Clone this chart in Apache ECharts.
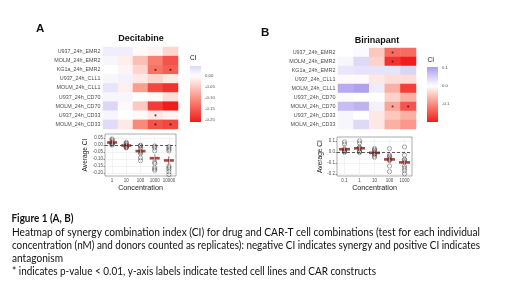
<!DOCTYPE html>
<html>
<head>
<meta charset="utf-8">
<script src="https://cdn.jsdelivr.net/npm/echarts@6/dist/echarts.min.js"></script>
<style>
  html, body { margin: 0; padding: 0; background: #fff; }
  #chart { width: 520px; height: 293px; }
</style>
</head>
<body>
<div id="chart"></div>
<script>
const cellLines = [
  "U937_24h_EMR2", "MOLM_24h_EMR2", "KG1a_24h_EMR2", "U937_24h_CLL1", "MOLM_24h_CLL1",
  "U937_24h_CD70", "MOLM_24h_CD70", "U937_24h_CD33", "MOLM_24h_CD33"
];

const decConc = ["1", "10", "100", "1000", "10000"];
const birConc = ["0.1", "1", "10", "100", "1000"];

// CI: one row per cell line, one column per concentration
const decCI = [
  [0.02, 0.02, -0.005, -0.01, -0.04],
  [0.01, -0.015, -0.06, -0.12, -0.16],
  [0.0, -0.01, -0.04, -0.13, -0.15],
  [0.01, 0.015, -0.02, -0.04, -0.02],
  [0.03, -0.015, -0.09, -0.17, -0.19],
  [0.01, 0.01, 0.0, -0.005, -0.03],
  [0.045, -0.005, -0.05, -0.18, -0.21],
  [0.01, 0.0, -0.005, -0.02, -0.01],
  [0.04, -0.02, -0.11, -0.16, -0.17]
];
const birCI = [
  [0.0, 0.005, -0.05, -0.13, -0.13],
  [0.01, 0.04, -0.04, -0.18, -0.2],
  [0.025, 0.03, 0.03, 0.03, 0.045],
  [-0.005, -0.005, -0.02, -0.03, -0.03],
  [0.09, 0.1, 0.02, -0.07, -0.17],
  [0.005, 0.0, 0.0, -0.04, -0.07],
  [0.07, 0.08, 0.015, -0.08, -0.15],
  [0.01, 0.0, -0.02, -0.05, -0.07],
  [0.01, 0.04, -0.02, -0.07, -0.09]
];

// p < 0.01 cells, [concentration index, cell line index]
const decStars = [[3, 2], [4, 2], [3, 7], [3, 8], [4, 8]];
const birStars = [[3, 0], [3, 1], [3, 6], [4, 6]];

const decBarTicks = [-0.2, -0.15, -0.1, -0.05, 0];
const birBarTicks = [-0.1, 0, 0.1];
const decBoxTicks = [-0.2, -0.15, -0.1, -0.05, 0, 0.05];
const birBoxTicks = [-0.2, -0.1, 0, 0.1];

const PALETTE = ["#f21b1b", "#f98e7e", "#ffffff", "#b0a0ee", "#6a4fe0"];
const GREY = "#4d4d4d";
const FONT = '"Liberation Sans", Arial, sans-serif';

const chart = echarts.init(document.getElementById("chart"), null, { renderer: "canvas" });

function heatData(mat) {
  const out = [];
  mat.forEach((row, r) => row.forEach((v, c) => out.push([c, r, v])));
  return out;
}

function colorbar(idx, lo, hi, M) {
  return {
    type: "custom",
    xAxisIndex: idx,
    yAxisIndex: idx,
    silent: true,
    data: [[0, 0]],
    renderItem: (params, api) => {
      const a = api.coord([0, hi]);
      const b = api.coord([1, lo]);
      const stops = [];
      for (let i = 0; i <= 20; i++) {
        const v = hi - (hi - lo) * i / 20;
        const t = Math.max(0, Math.min(1, (v + M) / (2 * M)));
        stops.push({ offset: i / 20, color: echarts.color.lerp(t, PALETTE) });
      }
      return {
        type: "rect",
        shape: { x: a[0], y: a[1], width: b[0] - a[0], height: b[1] - a[1] },
        style: { fill: new echarts.graphic.LinearGradient(0, 0, 0, 1, stops) }
      };
    }
  };
}

function boxSeries(idx, conc, mat, barW) {
  const pts = [];
  conc.forEach((c, j) => mat.forEach(row => pts.push([c, row[j]])));
  const means = conc.map((c, j) => [c, mat.reduce((s, row) => s + row[j], 0) / mat.length]);
  return [
    {
      type: "scatter", xAxisIndex: idx, yAxisIndex: idx, data: [], silent: true,
      markLine: {
        silent: true, symbol: ["none", "none"], label: { show: false },
        lineStyle: { color: "#ebebeb", width: 0.6, type: "solid" },
        data: conc.map(c => ({ xAxis: c }))
      }
    },
    {
      type: "scatter", xAxisIndex: idx, yAxisIndex: idx, data: pts, silent: true,
      symbol: "circle", symbolSize: 4.2,
      itemStyle: { color: "rgba(0,0,0,0)", borderColor: "#555", borderWidth: 0.7 },
      markLine: {
        silent: true, symbol: ["none", "none"], label: { show: false },
        lineStyle: { color: "#333", width: 0.8, type: [3, 2] },
        data: [{ yAxis: 0 }]
      }
    },
    {
      type: "scatter", xAxisIndex: idx, yAxisIndex: idx, data: means, silent: true,
      symbol: "rect", symbolSize: [barW, 2.6], itemStyle: { color: "#8b1a1a" }
    },
    {
      type: "scatter", xAxisIndex: idx, yAxisIndex: idx, data: means, silent: true,
      symbol: "rect", symbolSize: [1.2, 8], itemStyle: { color: "#8b1a1a" }
    }
  ];
}

function heatAxes(conc) {
  return {
    x: { type: "category", data: conc, show: false },
    y: {
      type: "category", data: cellLines, inverse: true,
      axisLine: { show: false }, axisTick: { show: false },
      axisLabel: { fontSize: 5.4, color: GREY, fontFamily: FONT, margin: 2.5 }
    }
  };
}

function barAxes(lo, hi, ticks, digits) {
  return {
    x: { type: "value", min: 0, max: 1, show: false },
    y: {
      type: "value", min: lo, max: hi, position: "right",
      axisLine: { show: false }, splitLine: { show: false },
      axisTick: { show: true, inside: true, length: 2, customValues: ticks, lineStyle: { color: "#fff", width: 0.6 } },
      axisLabel: { fontSize: 4.3, color: GREY, fontFamily: FONT, margin: 4, customValues: ticks, formatter: v => v.toFixed(digits) }
    }
  };
}

function boxAxes(conc, lo, hi, ticks, digits, nameGap) {
  return {
    x: {
      type: "category", data: conc,
      name: "Concentration", nameLocation: "middle", nameGap: 8.5,
      nameTextStyle: { fontSize: 7.2, color: "#222", fontFamily: FONT },
      axisLine: { show: false },
      axisTick: { show: true, alignWithLabel: true, length: 1.5, lineStyle: { color: "#333", width: 0.5 } },
      axisLabel: { fontSize: 4.5, color: GREY, fontFamily: FONT, margin: 2, interval: 0, hideOverlap: false }
    },
    y: {
      type: "value", min: lo, max: hi,
      name: "Average CI", nameLocation: "middle", nameGap: nameGap, nameRotate: 90,
      nameTextStyle: { fontSize: 6.6, color: "#222", fontFamily: FONT },
      axisLine: { show: false },
      axisTick: { show: true, length: 1.5, customValues: ticks, lineStyle: { color: "#333", width: 0.5 } },
      splitLine: { show: true, lineStyle: { color: "#ebebeb", width: 0.6 } },
      axisLabel: { fontSize: 4.5, color: GREY, fontFamily: FONT, margin: 2, customValues: ticks, formatter: v => v.toFixed(digits) }
    }
  };
}

const axesList = [
  heatAxes(decConc),
  barAxes(-0.21, 0.045, decBarTicks, 2),
  boxAxes(decConc, -0.22, 0.08, decBoxTicks, 2, 14),
  heatAxes(birConc),
  barAxes(-0.2, 0.105, birBarTicks, 1),
  boxAxes(birConc, -0.22, 0.135, birBoxTicks, 1, 11.3)
];

const grids = [
  { left: 103, top: 47, width: 75, height: 82 },
  { left: 190, top: 66, width: 11, height: 56 },
  { left: 105, top: 134, width: 71, height: 42, show: true, borderColor: "#555", borderWidth: 0.5 },
  { left: 338, top: 48, width: 78, height: 81 },
  { left: 427, top: 67, width: 11, height: 55 },
  { left: 337, top: 137, width: 75, height: 39, show: true, borderColor: "#555", borderWidth: 0.5 }
];

const measureCtx = document.createElement("canvas").getContext("2d");
function fitted(text, x, y, width, font) {
  measureCtx.font = font;
  const w = measureCtx.measureText(text).width;
  return { type: "text", x, y, scaleX: width / w, style: { text, font, fill: "#111", verticalAlign: "middle" } };
}
function label(text, x, y, font, align) {
  return { type: "text", x, y, style: { text, font, fill: "#111", align: align || "left", verticalAlign: "middle" } };
}

const CAPTION_FONT = '11px Lato, "Open Sans", sans-serif';
const graphics = [
  label("A", 36, 28.5, 'bold 11.5px ' + FONT),
  label("B", 261, 33, 'bold 11.5px ' + FONT),
  label("Decitabine", 141, 39, 'bold 9px ' + FONT, "center"),
  label("Birinapant", 377, 41, 'bold 9px ' + FONT, "center"),
  label("CI", 190, 58.5, '6.5px ' + FONT),
  label("CI", 427.5, 60.5, '6.5px ' + FONT),
  fitted("Figure 1 (A, B)", 11.5, 218, 62, 'bold 11px Lato, "Open Sans", sans-serif'),
  fitted("Heatmap of synergy combination index (CI) for drug and CAR-T cell combinations (test for each individual", 12, 232, 468, CAPTION_FONT),
  fitted("concentration (nM) and donors counted as replicates): negative CI indicates synergy and positive CI indicates", 12, 245, 468, CAPTION_FONT),
  fitted("antagonism", 12, 258, 51, CAPTION_FONT),
  fitted("* indicates p-value < 0.01, y-axis labels indicate tested cell lines and CAR constructs", 12, 271, 364, CAPTION_FONT)
];

const series = [
  { type: "heatmap", xAxisIndex: 0, yAxisIndex: 0, data: heatData(decCI), silent: true, itemStyle: { borderWidth: 0 } },
  { type: "scatter", xAxisIndex: 0, yAxisIndex: 0, data: decStars, silent: true, symbolSize: 2.2, itemStyle: { color: "#222" } },
  colorbar(1, -0.21, 0.045, 0.21),
  ...boxSeries(2, decConc, decCI, 10),
  { type: "heatmap", xAxisIndex: 3, yAxisIndex: 3, data: heatData(birCI), silent: true, itemStyle: { borderWidth: 0 } },
  { type: "scatter", xAxisIndex: 3, yAxisIndex: 3, data: birStars, silent: true, symbolSize: 2.2, itemStyle: { color: "#222" } },
  colorbar(4, -0.2, 0.105, 0.2),
  ...boxSeries(5, birConc, birCI, 11)
];

chart.setOption({
  animation: false,
  backgroundColor: "#fff",
  grid: grids,
  xAxis: axesList.map((a, i) => Object.assign({ gridIndex: i }, a.x)),
  yAxis: axesList.map((a, i) => Object.assign({ gridIndex: i }, a.y)),
  visualMap: [
    { type: "continuous", show: false, seriesIndex: 0, min: -0.21, max: 0.21, inRange: { color: PALETTE } },
    { type: "continuous", show: false, seriesIndex: 7, min: -0.2, max: 0.2, inRange: { color: PALETTE } }
  ],
  graphic: graphics,
  series: series
});

window.addEventListener("resize", () => chart.resize());
</script>
</body>
</html>
